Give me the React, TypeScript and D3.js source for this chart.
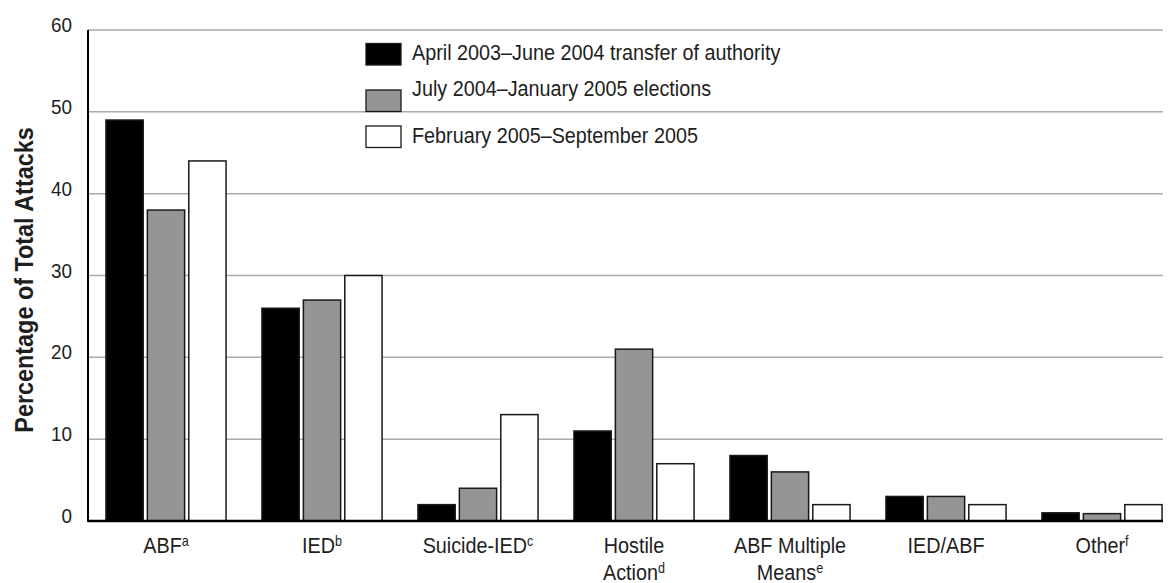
import React from "react";
import * as d3 from "d3";

const categories = ["ABF", "IED", "Suicide-IED", "Hostile Action", "ABF Multiple Means", "IED/ABF", "Other"];
const labelLines: [string, string][][] = [
  [["ABF", "a"]],
  [["IED", "b"]],
  [["Suicide-IED", "c"]],
  [["Hostile", ""], ["Action", "d"]],
  [["ABF Multiple", ""], ["Means", "e"]],
  [["IED/ABF", ""]],
  [["Other", "f"]],
];
const seriesNames = [
  "April 2003\u2013June 2004 transfer of authority",
  "July 2004\u2013January 2005 elections",
  "February 2005\u2013September 2005",
];
const period1 = [49, 26, 2, 11, 8, 3, 1];
const period2 = [38, 27, 4, 21, 6, 3, 0.9];
const period3 = [44, 30, 13, 7, 2, 2, 2];
const yTicks = [0, 10, 20, 30, 40, 50, 60];

const fills = ["#000000", "#959595", "#ffffff"];
const FONT = "'Liberation Sans', Arial, sans-serif";
const SX = 0.9;

function CText(props: { x: number; y: number; anchor?: string; size: number; weight?: string; rotate?: number; children: any }) {
  const { x, y, anchor = "start", size, weight = "normal", rotate = 0, children } = props;
  return (
    <g transform={`translate(${x},${y}) rotate(${rotate}) scale(${SX},1)`}>
      <text x={0} y={0} textAnchor={anchor} fontSize={size} fontWeight={weight} fill="#1e1e1e">{children}</text>
    </g>
  );
}

export default function App() {
  const W = 1171, H = 583;
  const left = 88, gridRight = 1163, top = 30, bottom = 521;
  const series = [period1, period2, period3];
  const x0 = d3.scaleBand<string>().domain(categories).range([left, left + 7 * 156]).paddingInner(0.23).paddingOuter(0.115);
  const x1 = d3.scaleBand<number>().domain([0, 1, 2]).range([0, x0.bandwidth()]).paddingInner(0.1);
  const y = d3.scaleLinear().domain([0, 60]).range([bottom, top]);
  const swatchY = [43.5, 90, 126];
  const textY = [60, 96, 143];

  return (
    <svg width={W} height={H} style={{ position: "absolute", left: 0, top: 0, background: "#fff" }} fontFamily={FONT}>
      {yTicks.filter((t) => t > 0).map((t) => (
        <line key={t} x1={left} x2={gridRight} y1={y(t)} y2={y(t)} stroke="#aaaaaa" strokeWidth={1.5} />
      ))}
      {yTicks.map((t) => (
        <CText key={"t" + t} x={72} y={y(t) + 2} anchor="end" size={21}>{t}</CText>
      ))}
      <CText x={33} y={280} anchor="middle" size={26} weight="bold" rotate={-90}>
        Percentage of Total Attacks
      </CText>
      {categories.map((c, i) => (
        <g key={c} transform={`translate(${x0(c)},0)`}>
          {series.map((s, j) => (
            <rect key={j} x={x1(j)} y={y(s[i])} width={x1.bandwidth()} height={bottom - y(s[i])}
              fill={fills[j]} stroke="#1a1a1a" strokeWidth={1.5} />
          ))}
        </g>
      ))}
      <line x1={left} x2={gridRight} y1={bottom} y2={bottom} stroke="#000" strokeWidth={2.5} />
      <line x1={left} x2={left} y1={top} y2={bottom + 1} stroke="#000" strokeWidth={2} />
      {categories.map((c, i) =>
        labelLines[i].map(([txt, sup], k) => (
          <CText key={c + k} x={(x0(c) as number) + x0.bandwidth() / 2} y={553 + k * 27} anchor="middle" size={22}>
            {txt}
            {sup ? <tspan fontSize={14} dy={-7}>{sup}</tspan> : null}
          </CText>
        ))
      )}
      {seriesNames.map((n, j) => (
        <g key={n}>
          <rect x={366} y={swatchY[j]} width={35} height={21.5} fill={fills[j]} stroke="#1a1a1a" strokeWidth={1.3} />
          <CText x={412} y={textY[j]} size={22}>{n}</CText>
        </g>
      ))}
    </svg>
  );
}
